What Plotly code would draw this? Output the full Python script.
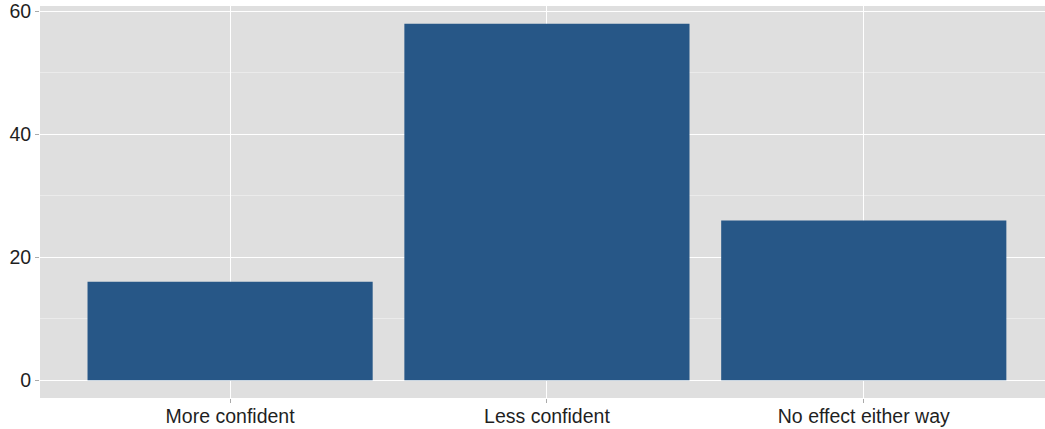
import plotly.graph_objects as go

categories = ["More confident", "Less confident", "No effect either way"]
values = [16, 58, 26]
y_ticks = [0, 20, 40, 60]

fig = go.Figure()
fig.add_trace(go.Bar(
    x=[1, 2, 3], y=values, width=0.9,
    marker=dict(color="#275787", line=dict(width=0)),
    hoverinfo="skip",
))

fig.update_layout(
    width=1045, height=429,
    margin=dict(l=40, r=0, t=6, b=31),
    paper_bgcolor="white",
    plot_bgcolor="#DFDFDF",
    showlegend=False,
    font=dict(family="Liberation Sans, Arial, sans-serif", size=19.5, color="#1f1f1f"),
)
fig.update_xaxes(
    range=[0.4, 3.572],
    tickmode="array", tickvals=[1, 2, 3], ticktext=categories,
    showgrid=True, gridcolor="white", gridwidth=1.2,
    ticks="outside", ticklen=4, tickcolor="#aaaaaa", tickwidth=1,
    ticklabelstandoff=-3,
    zeroline=False, showline=False, automargin=False,
    tickfont=dict(size=19.5, color="#1f1f1f"),
)
fig.update_yaxes(
    range=[-2.9, 60.9],
    tickmode="array", tickvals=y_ticks, ticktext=[str(v) for v in y_ticks],
    showgrid=True, gridcolor="white", gridwidth=1.2,
    minor=dict(tickmode="array", tickvals=[10, 30, 50], showgrid=True,
               gridcolor="#EBEBEB", gridwidth=0.6, ticks=""),
    ticks="outside", ticklen=4, tickcolor="#aaaaaa", tickwidth=1,
    zeroline=False, showline=False, automargin=False,
    tickfont=dict(size=19.5, color="#1f1f1f"),
)

fig.write_html(
    "out.html",
    config={"displayModeBar": False},
    post_script="document.body.style.margin='0';document.body.style.overflow='hidden';",
)
